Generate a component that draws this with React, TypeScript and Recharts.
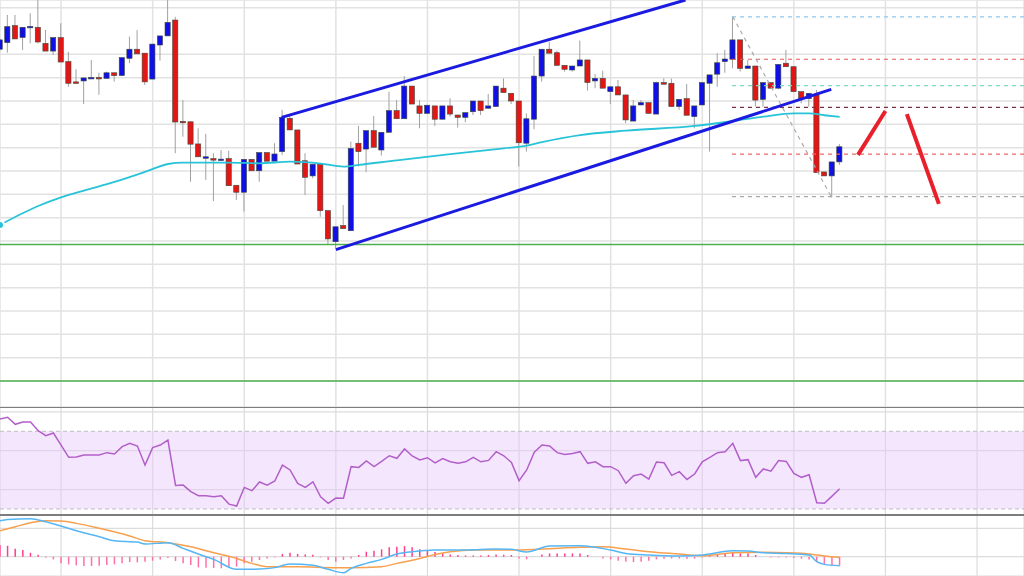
import React from 'react';
import {
  ComposedChart, Bar, Line, XAxis, YAxis, CartesianGrid, ReferenceLine, ReferenceArea, Cell,
} from 'recharts';

// candles: [open, high, low, close]
const CANDLES: [number, number, number, number][] = [
  [382.2, 387.0, 381.1, 386.2], [385.0, 396.9, 380.7, 391.9], [392.3, 396.9, 386.6, 386.6], [387.2, 391.6, 381.9, 391.6],
  [391.9, 397.6, 384.7, 392.0], [391.6, 404.0, 384.7, 385.3], [384.7, 390.4, 381.4, 381.4], [381.4, 387.2, 379.7, 387.2],
  [387.2, 393.3, 376.7, 376.7], [376.9, 381.1, 366.1, 367.6], [368.2, 373.6, 367.6, 368.0], [368.6, 369.9, 358.7, 369.9],
  [370.0, 377.6, 370.0, 370.1], [370.1, 372.1, 362.7, 369.9], [369.7, 372.6, 369.7, 372.1], [372.1, 372.1, 368.3, 370.9],
  [370.9, 378.6, 370.9, 378.6], [378.3, 387.6, 376.2, 382.2], [382.2, 390.4, 380.2, 380.2], [380.5, 380.5, 366.9, 368.2],
  [369.4, 384.4, 369.4, 384.4], [384.0, 387.9, 377.3, 387.9], [387.9, 404.0, 387.9, 393.7], [394.7, 396.1, 337.6, 351.0],
  [351.3, 360.4, 344.7, 351.1], [351.1, 351.1, 325.4, 341.5], [341.6, 348.3, 335.9, 336.1], [335.9, 345.9, 326.2, 336.1],
  [335.3, 337.6, 317.1, 334.9], [335.0, 339.0, 334.7, 335.1], [335.3, 338.7, 323.7, 323.7], [323.9, 323.9, 317.6, 320.9],
  [320.9, 335.0, 312.6, 335.0], [335.0, 335.0, 330.1, 330.1], [330.1, 337.9, 325.4, 337.9], [337.9, 337.9, 334.2, 334.2],
  [334.2, 341.9, 334.2, 337.3], [338.3, 356.2, 336.9, 353.0], [352.6, 354.4, 347.6, 347.6], [347.6, 347.6, 333.0, 333.0],
  [334.4, 337.6, 319.7, 327.3], [327.9, 332.9, 326.9, 332.9], [332.9, 332.9, 310.4, 313.0], [313.0, 313.0, 298.3, 300.9],
  [299.7, 306.1, 296.9, 306.1], [306.6, 315.4, 305.3, 305.3], [304.4, 342.6, 304.4, 339.7], [341.9, 349.3, 331.9, 338.3],
  [339.4, 347.3, 329.5, 347.3], [347.3, 353.6, 340.2, 340.2], [339.0, 346.6, 336.6, 346.6], [346.6, 364.0, 346.6, 355.9],
  [355.9, 360.4, 352.4, 352.4], [352.4, 370.7, 352.4, 366.4], [366.4, 366.4, 358.7, 358.7], [357.9, 360.4, 348.3, 354.7],
  [354.7, 358.2, 354.7, 358.2], [357.9, 357.9, 349.3, 352.2], [352.2, 357.9, 352.2, 357.9], [357.9, 361.2, 353.3, 354.4],
  [354.0, 354.0, 348.6, 353.0], [353.0, 355.0, 350.9, 355.0], [355.4, 360.0, 354.0, 360.0], [360.0, 360.0, 354.0, 355.9],
  [356.9, 363.0, 356.9, 357.9], [357.6, 366.4, 357.6, 366.4], [365.5, 369.7, 363.6, 363.6], [363.3, 363.3, 358.7, 360.0],
  [360.0, 360.0, 331.9, 342.1], [341.9, 354.7, 338.3, 352.4], [352.2, 379.3, 347.9, 370.7], [370.7, 382.2, 368.3, 382.2],
  [382.2, 385.4, 380.5, 380.5], [380.7, 381.6, 375.3, 375.3], [375.3, 375.3, 372.6, 373.6], [373.3, 375.0, 372.6, 375.0],
  [375.0, 385.9, 375.0, 377.6], [377.6, 377.6, 364.4, 367.9], [368.6, 371.6, 365.5, 369.7], [369.7, 373.0, 365.5, 365.5],
  [364.0, 366.1, 358.7, 366.1], [366.1, 369.0, 362.6, 362.6], [362.6, 362.6, 350.5, 351.9], [351.4, 360.4, 351.4, 357.9],
  [358.3, 360.4, 358.3, 359.3], [359.3, 359.3, 354.7, 354.7], [354.4, 368.3, 354.4, 367.9], [367.9, 369.7, 367.2, 367.2],
  [367.6, 369.6, 357.6, 357.6], [357.6, 360.7, 356.2, 360.7], [361.0, 367.3, 353.9, 353.9], [353.3, 357.9, 348.3, 357.9],
  [358.3, 367.9, 358.3, 367.9], [367.6, 371.2, 338.3, 371.2], [371.5, 380.5, 366.1, 376.4], [376.9, 381.9, 372.1, 378.0],
  [377.9, 396.1, 374.0, 386.2], [386.2, 386.2, 372.6, 374.0], [374.0, 377.6, 374.0, 375.0], [375.0, 375.0, 357.6, 360.4],
  [360.7, 367.9, 357.6, 367.9], [367.9, 367.9, 365.5, 365.5], [365.5, 375.7, 365.0, 375.7], [376.2, 381.9, 374.7, 374.7],
  [374.7, 374.7, 364.0, 364.0], [364.0, 364.0, 359.0, 361.0], [361.0, 363.3, 357.6, 363.3], [362.6, 364.7, 329.3, 329.3],
  [329.6, 329.6, 327.9, 327.9], [327.9, 333.9, 318.7, 333.9], [333.9, 341.6, 332.6, 340.4],
];

// 100 SMA, read at some candles: [candle, value]
const SMA_POINTS: [number, number][] = [
  [0, 306.9], [5, 315.0], [8, 318.7], [11, 321.6], [15, 325.3], [19, 329.6], [22, 333.0], [24, 333.6],
  [30, 333.6], [34, 333.3], [38, 334.0], [42, 333.2], [45, 331.9], [47, 332.6], [52, 334.6], [59, 337.2],
  [66, 339.7], [69, 340.9], [71, 342.4], [76, 345.4], [82, 347.3], [91, 349.3], [96, 351.4], [100, 353.3],
  [104, 354.7], [106, 354.7], [108, 353.9], [110, 353.2],
];

const RSI = [
  76.3, 77.2, 73.6, 74.8, 74.8, 70.3, 67.7, 69.1, 62.9, 56.6,
  56.8, 57.8, 57.8, 57.8, 59.0, 58.3, 62.1, 63.8, 62.4, 52.6,
  61.6, 62.9, 65.5, 42.1, 42.3, 38.9, 36.8, 36.8, 36.3, 36.8,
  32.5, 31.5, 41.1, 39.4, 43.9, 42.3, 44.4, 52.6, 50.1, 43.2,
  41.1, 44.0, 36.3, 32.9, 35.6, 35.5, 51.8, 51.4, 54.7, 51.8,
  54.5, 57.4, 56.1, 60.9, 57.3, 55.2, 56.4, 53.7, 55.9, 54.3,
  53.5, 54.3, 56.6, 54.3, 55.0, 59.5, 57.4, 54.0, 44.6, 50.1,
  59.2, 62.9, 62.4, 59.0, 58.1, 58.6, 59.5, 53.5, 54.3, 51.8,
  51.8, 49.7, 43.2, 47.1, 48.0, 45.4, 54.2, 53.8, 47.3, 49.2,
  45.2, 48.0, 54.3, 56.6, 59.0, 59.5, 63.8, 54.9, 55.4, 46.3,
  50.6, 49.5, 54.9, 54.5, 48.3, 46.3, 47.6, 33.2, 32.9, 36.6, 40.4,
];

const HIST = [
  0.82, 0.77, 0.56, 0.47, 0.28, 0.14, -0.07, -0.19, -0.47, -0.54,
  -0.61, -0.66, -0.66, -0.63, -0.59, -0.54, -0.47, -0.38, -0.40, -0.35,
  -0.28, -0.19, -0.09, -0.31, -0.47, -0.59, -0.75, -0.77, -0.80, -0.82,
  -0.75, -0.70, -0.47, -0.35, -0.23, -0.12, -0.05, 0.19, 0.28, 0.19,
  0.16, 0.14, -0.05, -0.23, -0.35, -0.23, -0.12, 0.12, 0.35, 0.42,
  0.52, 0.66, 0.70, 0.75, 0.66, 0.52, 0.42, 0.33, 0.23, 0.16,
  0.12, 0.09, 0.09, 0.09, 0.12, 0.16, 0.14, 0.12, -0.12, -0.19,
  0.0, 0.16, 0.23, 0.23, 0.23, 0.23, 0.23, 0.12, 0.0, -0.12,
  -0.19, -0.28, -0.35, -0.38, -0.35, -0.28, -0.19, -0.14, -0.12, -0.12,
  -0.14, -0.14, -0.05, 0.12, 0.19, 0.19, 0.33, 0.23, 0.23, 0.12,
  0.0, -0.05, -0.05, -0.05, -0.09, -0.14, -0.19, -0.38, -0.52, -0.63, -0.63,
];

const MACD_POINTS: [number, number][] = [
  [0, 2.54], [1, 2.63], [4, 2.68], [6, 2.46], [8, 2.16], [10, 1.83], [13, 1.41], [15, 1.13], [18, 1.03],
  [19, 0.89], [22, 0.99], [24, 0.59], [26, 0.19], [28, -0.19], [31, -0.89], [34, -0.87], [36, -0.77],
  [38, -0.52], [41, -0.61], [43, -0.89], [45, -1.13], [46, -0.82], [48, -0.47], [50, -0.19], [52, 0.19],
  [54, 0.35], [57, 0.47], [61, 0.47], [65, 0.54], [67, 0.52], [69, 0.33], [72, 0.75], [76, 0.77],
  [80, 0.47], [82, 0.23], [85, 0.12], [89, 0.05], [92, 0.12], [96, 0.42], [98, 0.40], [100, 0.28],
  [103, 0.23], [106, 0.12], [107, -0.35], [108, -0.54], [110, -0.63],
];

const SIGNAL_POINTS: [number, number][] = [
  [0, 1.83], [2, 2.11], [4, 2.39], [6, 2.54], [8, 2.51], [10, 2.35], [13, 2.00], [17, 1.46], [19, 1.13],
  [22, 0.99], [25, 0.70], [28, 0.28], [31, -0.12], [33, -0.47], [35, -0.70], [39, -0.70], [44, -0.77],
  [46, -0.77], [50, -0.70], [52, -0.47], [55, -0.12], [57, 0.16], [59, 0.35], [62, 0.47], [67, 0.47],
  [71, 0.54], [76, 0.66], [79, 0.70], [82, 0.54], [85, 0.35], [89, 0.19], [92, 0.07], [96, 0.28],
  [100, 0.31], [103, 0.28], [106, 0.19], [108, 0.05], [110, -0.05],
];

// fibonacci retracement levels drawn from the swing high
const FIB_START = 95.9;
const FIB_LEVELS = [396.1, 377.9, 366.6, 357.3, 337.2, 319.0];
const FIB_COLORS = ['#8cc8ea', '#e8585a', '#7fdcb5', '#7a3344', '#ee6a6a', '#a8a8a8'];
const FIB_SWING: [number, number][] = [[96.0, 396.1], [108.9, 319.0]];

const CHANNEL_UPPER: [number, number][] = [[36.9, 353.0], [89.8, 403.3]];
const CHANNEL_LOWER: [number, number][] = [[44.0, 296.3], [108.9, 365.0]];
const ARROWS: [number, number][][] = [
  [[112.4, 336.9], [116.0, 355.7]],
  [[118.8, 354.4], [123.0, 315.9]],
];
const SUPPORTS = [298.5, 240.0];

const X_DOMAIN: [number, number] = [0, 134.15];
const X_GRID = [8, 20, 32, 44, 56, 68, 80, 92, 104, 116, 128];
const PRICE_DOMAIN: [number, number] = [228.86, 403.29];
const PRICE_GRID = [230, 240, 250, 260, 270, 280, 290, 300, 310, 320, 330, 340, 350, 360, 370, 380, 390, 400];

const W = 1024;

const smaMap = new Map(SMA_POINTS);
const macdMap = new Map(MACD_POINTS);
const sigMap = new Map(SIGNAL_POINTS);

const mainData = CANDLES.map(([o, h, l, c], i) => ({
  i, open: o, high: h, low: l, close: c, range: [l, h], sma: smaMap.get(i) ?? null,
}));
const rsiData = RSI.map((v, i) => ({ i, rsi: v }));
const macdData = HIST.map((v, i) => ({
  i, hist: v, macd: macdMap.get(i) ?? null, signal: sigMap.get(i) ?? null,
}));

const Candle = (props: any) => {
  const { x, y, width, height, payload } = props;
  if (!payload) return null;
  const { open, high, low, close } = payload;
  const top = height >= 0 ? y : y + height;
  const span = Math.abs(height);
  const px = (v: number) => (high === low ? top : top + ((high - v) / (high - low)) * span);
  const cx = x + width / 2;
  const bTop = px(Math.max(open, close));
  const bh = Math.max(px(Math.min(open, close)) - bTop, 1.5);
  return (
    <g>
      <line x1={cx} x2={cx} y1={top} y2={top + span} stroke="#a0a0a0" strokeWidth={1} />
      <rect x={cx - 2.6} y={bTop} width={5.2} height={bh}
        fill={close >= open ? '#0f0fe6' : '#e31616'} stroke="#3e4a3e" strokeWidth={0.6} />
    </g>
  );
};

const seg = (p: [number, number][]) => p.map(([x, y]) => ({ x, y }));

const GRID = '#e2e2e2';

export default function App() {
  return (
    <div style={{ position: 'fixed', left: 0, top: 0, width: W, height: 576, background: '#fff', overflow: 'hidden' }}>
      <div style={{ position: 'absolute', left: 0, top: 0 }}>
        <ComposedChart width={W} height={407} data={mainData} margin={{ top: 0, right: 0, bottom: 0, left: 0 }}>
          <CartesianGrid stroke={GRID} strokeWidth={1.5} />
          <XAxis type="number" dataKey="i" domain={X_DOMAIN} ticks={X_GRID} allowDataOverflow hide />
          <YAxis type="number" domain={PRICE_DOMAIN} ticks={PRICE_GRID} allowDataOverflow hide />
          {SUPPORTS.map((s) => (
            <ReferenceLine key={s} y={s} stroke="#4caf50" strokeWidth={1.5} ifOverflow="visible" />
          ))}
          {FIB_LEVELS.map((lv, k) => (
            <ReferenceLine key={lv} segment={[{ x: FIB_START, y: lv }, { x: X_DOMAIN[1], y: lv }]}
              stroke={FIB_COLORS[k]} strokeWidth={1.2} strokeDasharray="4 4" ifOverflow="visible" />
          ))}
          <ReferenceLine segment={seg(FIB_SWING)} stroke="#aaaaaa" strokeWidth={1.2} strokeDasharray="4 4" ifOverflow="visible" />
          <Line type="monotone" dataKey="sma" stroke="#27c3d8" strokeWidth={1.8} dot={false}
            connectNulls isAnimationActive={false} />
          <Bar dataKey="range" barSize={5} shape={<Candle />} isAnimationActive={false} />
          <ReferenceLine segment={seg(CHANNEL_UPPER)} stroke="#1a1ae0" strokeWidth={3} ifOverflow="visible" />
          <ReferenceLine segment={seg(CHANNEL_LOWER)} stroke="#1a1ae0" strokeWidth={3} ifOverflow="visible" />
          {ARROWS.map((a, k) => (
            <ReferenceLine key={k} segment={seg(a)} stroke="#e8202c" strokeWidth={4} ifOverflow="visible" />
          ))}
        </ComposedChart>
      </div>

      <div style={{ position: 'absolute', left: 0, top: 407 }}>
        <ComposedChart width={W} height={108} data={rsiData} margin={{ top: 0, right: 0, bottom: 0, left: 0 }}>
          <CartesianGrid stroke="#dcdcdc" strokeWidth={1.2} />
          <XAxis type="number" dataKey="i" domain={X_DOMAIN} ticks={X_GRID} allowDataOverflow hide />
          <YAxis type="number" domain={[26.9, 82.5]} ticks={[40, 60, 80]} allowDataOverflow hide />
          <ReferenceArea y1={30} y2={70} fill="#e6c9fb" fillOpacity={0.45} stroke="none" ifOverflow="visible" />
          <ReferenceLine y={70} stroke="#bdbdbd" strokeDasharray="4 3" />
          <ReferenceLine y={30} stroke="#bdbdbd" strokeDasharray="4 3" />
          <Line type="linear" dataKey="rsi" stroke="#b25fc9" strokeWidth={1.5} dot={false} isAnimationActive={false} />
        </ComposedChart>
      </div>

      <div style={{ position: 'absolute', left: 0, top: 515 }}>
        <ComposedChart width={W} height={61} data={macdData} margin={{ top: 0, right: 0, bottom: 0, left: 0 }}>
          <CartesianGrid stroke="#dcdcdc" strokeWidth={1.2} />
          <XAxis type="number" dataKey="i" domain={X_DOMAIN} ticks={X_GRID} allowDataOverflow hide />
          <YAxis type="number" domain={[-1.36, 2.94]} ticks={[0, 2]} allowDataOverflow hide />
          <Bar dataKey="hist" barSize={1.5} isAnimationActive={false}>
            {HIST.map((v, k) => (
              <Cell key={k} fill={v >= 0 ? '#ff3d8e' : '#ff6fa8'} />
            ))}
          </Bar>
          <Line type="monotone" dataKey="signal" stroke="#f7a04e" strokeWidth={1.5} dot={false}
            connectNulls isAnimationActive={false} />
          <Line type="monotone" dataKey="macd" stroke="#56b6f4" strokeWidth={1.5} dot={false}
            connectNulls isAnimationActive={false} />
        </ComposedChart>
      </div>

      <div style={{ position: 'absolute', left: 0, top: 406.5, width: W, height: 1.5, background: '#7d7d7d' }} />
      <div style={{ position: 'absolute', left: 0, top: 514.3, width: W, height: 1.5, background: '#7d7d7d' }} />
    </div>
  );
}
